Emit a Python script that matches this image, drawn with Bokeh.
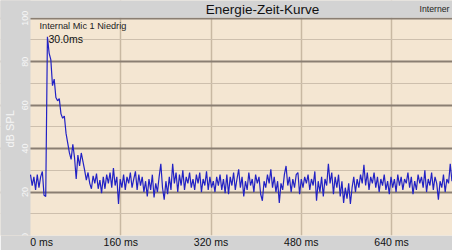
import numpy as np
from bokeh.plotting import figure
from bokeh.models import Label, FixedTicker, LinearAxis
from bokeh.embed import file_html
from bokeh.resources import INLINE

# sampling step of the trace (ms)
step_ms = 3
# energy-time curve values (dB SPL), one per 3 ms starting at 0 ms
etc_db = [
    28, 23, 27, 21, 28, 22, 27, 29.5, 18.5, 18,            # 0-27
    91.5, 84, 81, 69, 72, 63.5, 62, 63, 56, 54,            # 30-57
    55, 47, 42.5, 38, 35, 42, 36, 26, 37, 32,              # 60-87
    38, 34, 30, 25.5, 29, 24, 21.5, 27.5, 24, 28.5,        # 90-117
    21.5, 25.5, 19.5, 27, 21.5, 28, 24, 29, 22, 31,        # 120-147
    23, 27, 14.5, 26, 22, 28, 21, 27, 24, 29,              # 150-177
    22, 26, 29.5, 21, 28, 23, 27, 20, 25, 18,              # 180-207
    26, 21, 28, 17.5, 24, 20, 27, 33, 22, 16.5,            # 210-237
    25, 19, 27, 21, 33, 24, 29, 20, 28, 23,                # 240-267
    30, 21, 27, 24, 29, 22, 26, 21, 28, 24,                # 270-297
    29, 20, 26, 23, 29.5, 21, 27, 22, 25, 20,              # 300-327
    27, 23, 28, 21, 26, 19.5, 28, 19, 27, 23,              # 330-357
    29, 21, 26, 30.5, 22, 27, 18, 25, 21, 29,              # 360-387
    23, 26, 20, 28, 24, 27, 19, 16, 25, 22,                # 390-417
    28, 24, 30.5, 22, 27, 20, 25, 15, 24, 21,              # 420-447
    28, 32, 23, 27, 20, 26, 22, 28, 29, 19,                # 450-477
    26, 22, 27, 24, 28, 21, 26, 23, 29.5, 16,              # 480-507
    25, 20, 27, 18, 26, 23, 33, 24, 29, 19,                # 510-537
    27, 22, 28, 18, 25, 15, 22, 17, 24, 14.5,              # 540-567
    22, 27, 20, 26, 22, 28, 24, 32.5, 23, 29,              # 570-597
    21, 27, 24, 29, 22, 27, 20, 26, 23, 28,                # 600-627
    21, 25, 19, 27, 22, 26, 20, 28, 23, 27,                # 630-657
    21, 26, 24, 29, 22, 27, 19, 25, 21, 28,                # 660-687
    24, 27, 22, 30, 20, 26, 23, 29, 21, 27,                # 690-717
    24, 16.5, 25, 22, 28, 20, 26, 24, 33, 25,              # 720-747
]
time_ms = [i * step_ms for i in range(len(etc_db))]

x_ticks = [0, 160, 320, 480, 640]
x_tick_labels = ["0 ms", "160 ms", "320 ms", "480 ms", "640 ms"]
y_ticks = [0, 20, 40, 60, 80, 100]
y_minor = [10, 30, 50, 70, 90]
title_text = "Energie-Zeit-Kurve"
series_name = "Internal Mic 1 Niedrig"
peak_label = "30.0ms"
legend_right = "Interner"
y_label = "dB SPL"

X_MAX = 748
PLOT_LEFT_PX = 30
PX_PER_MS = 422 / X_MAX
X_MIN = -PLOT_LEFT_PX / PX_PER_MS          # gray strip on the left is inside the frame
PX_PER_DB = 2.2
FRAME_BOTTOM_PX = 238
Y_TOP = FRAME_BOTTOM_PX / PX_PER_DB        # gray strip on top is inside the frame
GRAY = "#d3d3d3"
FONT = "Liberation Sans"

p = figure(width=452, height=250, x_range=(X_MIN, X_MAX), y_range=(0, Y_TOP),
           x_axis_location=None, y_axis_location=None,
           toolbar_location=None, output_backend="svg",
           min_border_left=0, min_border_right=0,
           min_border_top=0, min_border_bottom=12)
p.title.visible = False
p.outline_line_color = None
p.background_fill_color = "#f4e6d2"
p.border_fill_color = GRAY

# bottom axis: the first label sits to the right of its tick, like the original
zero_shift = 11.2 / PX_PER_MS
xaxis = LinearAxis(ticker=FixedTicker(ticks=[zero_shift] + x_ticks[1:]),
                   major_label_overrides={zero_shift if i == 0 else t: lab
                                          for i, (t, lab) in enumerate(zip(x_ticks, x_tick_labels))},
                   major_label_text_font=FONT, major_label_text_font_size="10.5px",
                   major_label_text_color="#111111", major_label_standoff=0,
                   major_tick_in=0, major_tick_out=0, minor_tick_in=0, minor_tick_out=0,
                   axis_label_standoff=0,
                   major_tick_line_color=None, minor_tick_line_color=None,
                   axis_line_color=None)
p.add_layout(xaxis, "below")

p.ygrid.ticker = FixedTicker(ticks=y_ticks, minor_ticks=y_minor)
p.ygrid.grid_line_color = "#8a7e72"
p.ygrid.grid_line_width = 2
p.ygrid.minor_grid_line_color = "#cdbfad"
p.ygrid.minor_grid_line_width = 1
p.xgrid.ticker = FixedTicker(ticks=x_ticks[1:])
p.xgrid.grid_line_color = "#c8b8a2"
p.xgrid.grid_line_width = 1.5

# gray strips: title bar above the 100 dB line, y-axis bar left of 0 ms
p.quad(left=[X_MIN - 5, X_MIN - 5], right=[X_MAX + 5, 0],
       bottom=[100.25, -5], top=[Y_TOP + 5, Y_TOP + 5],
       fill_color=GRAY, line_color=None)

p.line(time_ms, etc_db, line_color="#2222c4", line_width=1.2)

def xdata(px):
    return (px - PLOT_LEFT_PX) / PX_PER_MS

def ydata(py):
    return (FRAME_BOTTOM_PX - py) / PX_PER_DB

# y tick labels and axis title (rotated, light on gray)
for v in y_ticks:
    p.add_layout(Label(x=xdata(24.5), y=v, text=str(v), text_font=FONT,
                       text_font_size="9px", text_color="#f6f6f6",
                       angle=np.pi / 2, text_align="center",
                       text_baseline="middle"))
p.add_layout(Label(x=xdata(9), y=ydata(130), text=y_label, text_font=FONT,
                   text_font_size="11px", text_color="#f6f6f6",
                   angle=np.pi / 2, text_align="center", text_baseline="middle"))

p.add_layout(Label(x=xdata(262), y=ydata(9), text=title_text, text_font=FONT,
                   text_font_size="13.5px", text_color="#111111",
                   text_align="center", text_baseline="middle"))
p.add_layout(Label(x=xdata(419), y=ydata(9), text=legend_right, text_font=FONT,
                   text_font_size="8.7px", text_color="#222222",
                   text_align="left", text_baseline="middle"))
p.add_layout(Label(x=xdata(39), y=ydata(26), text=series_name, text_font=FONT,
                   text_font_size="9.2px", text_color="#222222",
                   text_align="left", text_baseline="middle"))
p.add_layout(Label(x=xdata(48), y=ydata(39), text=peak_label, text_font=FONT,
                   text_font_size="10.5px", text_color="#111111",
                   text_align="left", text_baseline="middle"))

open("out.html", "w").write(file_html(p, INLINE))
